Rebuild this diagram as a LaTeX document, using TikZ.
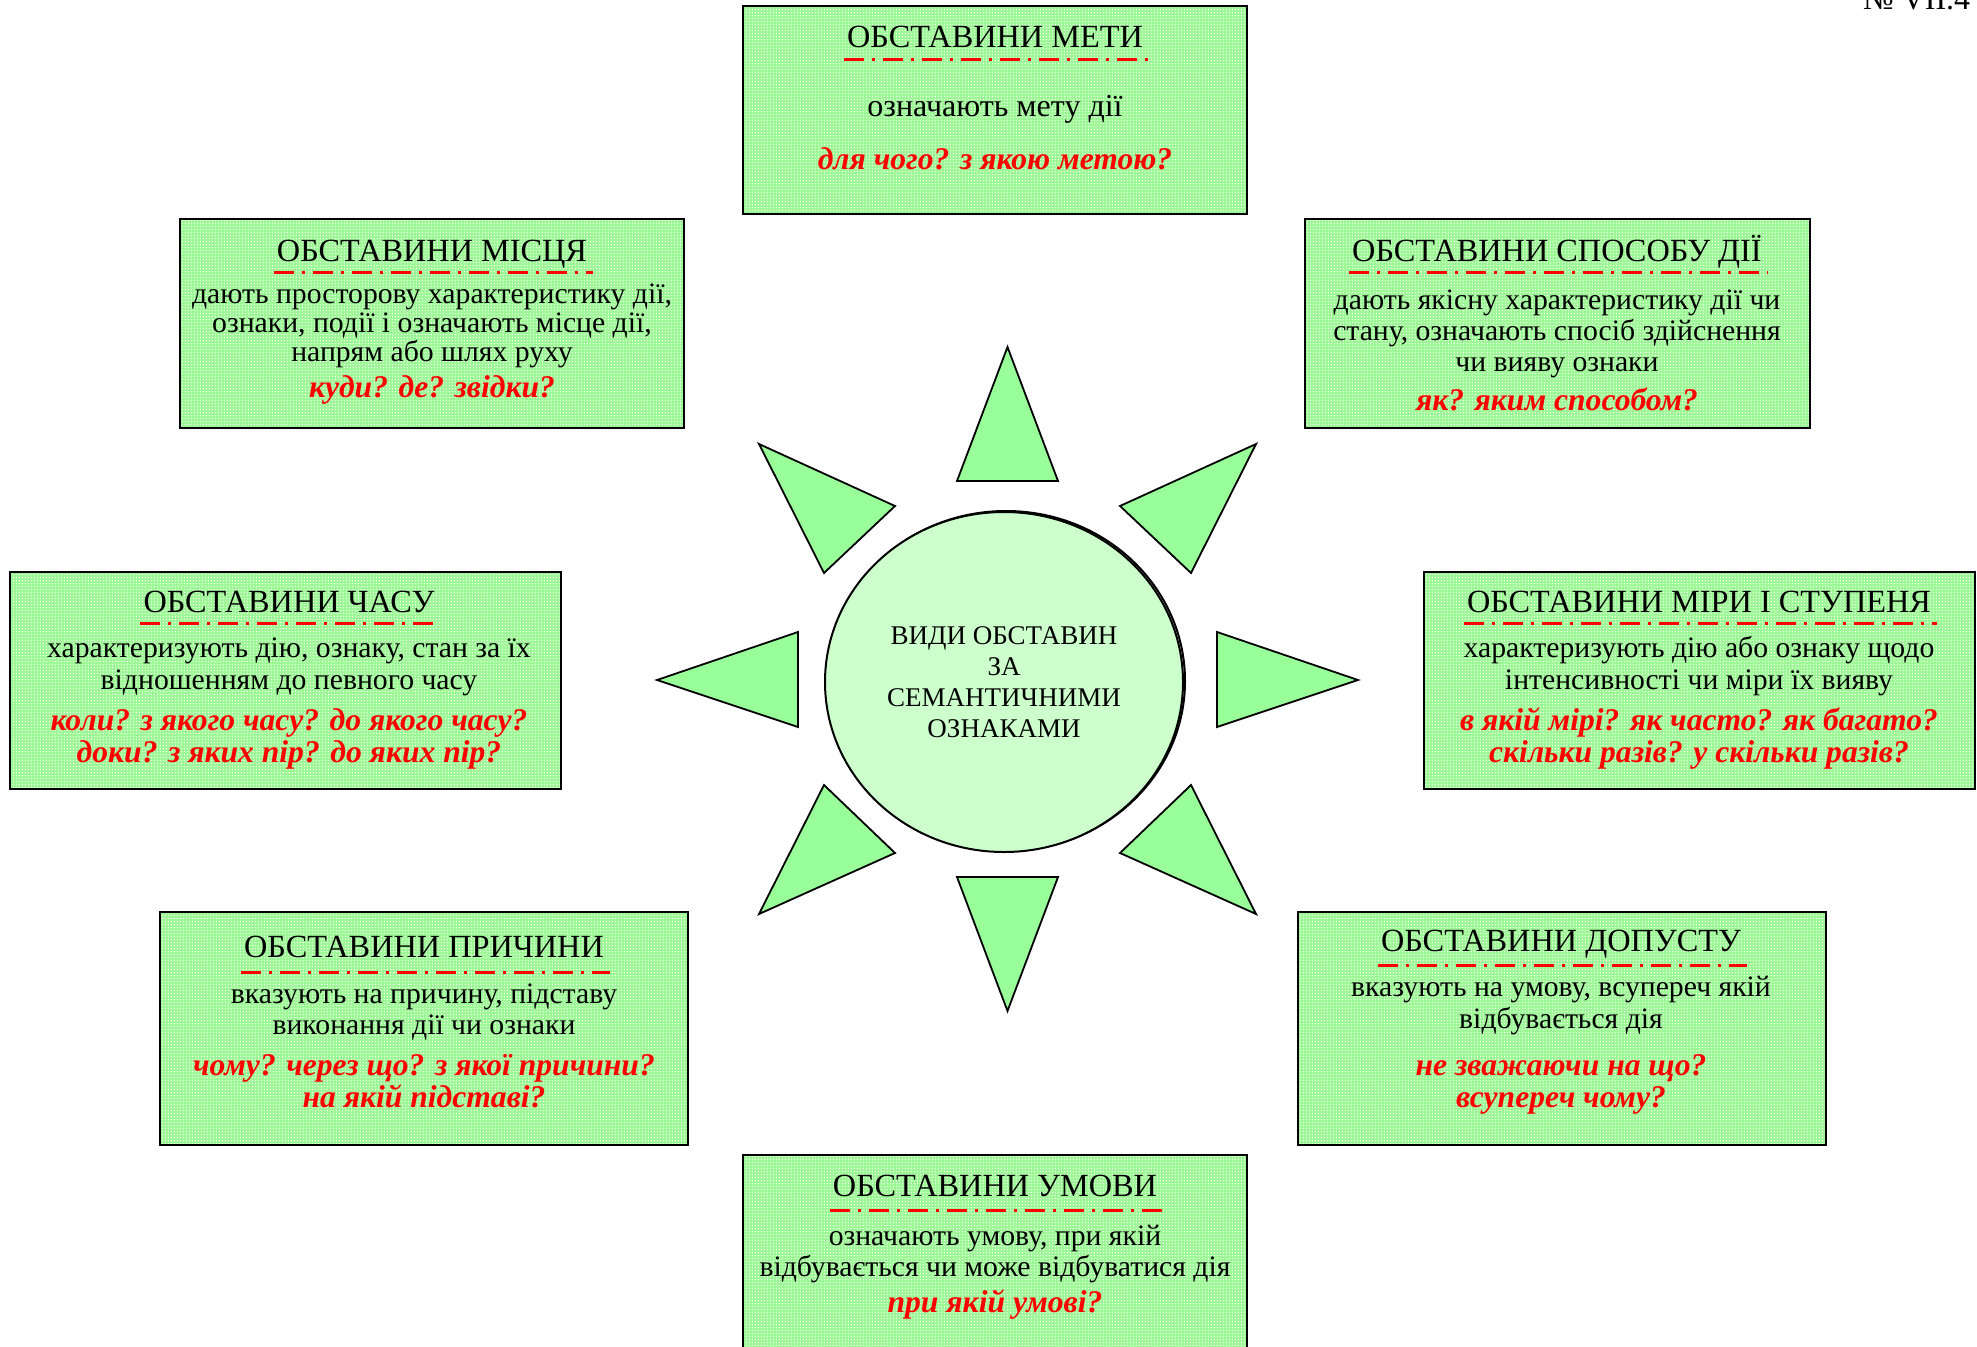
\documentclass[tikz,border=0pt]{standalone}
\usepackage{fontspec}
\setmainfont{Liberation Serif}
\usetikzlibrary{calc,shapes.geometric,patterns.meta}

\definecolor{boxgreen}{RGB}{156,248,148}
\definecolor{trigreen}{RGB}{153,255,153}
\definecolor{coregreen}{RGB}{204,255,204}
\definecolor{qred}{RGB}{255,0,0}

% fine grid of white dots laid over the panel fill
\tikzdeclarepattern{
  name=whitedots,
  type=uncolored,
  bounding box={(0pt,0pt) and (3.3pt,3.3pt)},
  tile size={(3.3pt,3.3pt)},
  code={\fill (1.65pt,1.65pt) circle (0.8pt);}
}

\tikzset{
  panel/.style={draw=black, line width=2pt, preaction={fill=boxgreen},
    pattern=whitedots, pattern color=white, inner sep=0pt},
  hdtxt/.style={font=\fontsize{32.3}{36}\selectfont, anchor=base, inner sep=0pt},
  bdtxt/.style={font=\fontsize{29.7}{33}\selectfont, anchor=base, inner sep=0pt},
  bigbdtxt/.style={font=\fontsize{32}{35}\selectfont, anchor=base, inner sep=0pt},
  asktxt/.style={font=\fontsize{31.6}{34}\selectfont\bfseries\itshape, text=qred,
    anchor=base, inner sep=0pt},
  dashline/.style={draw=qred, line width=3pt,
    dash pattern=on 20pt off 8pt on 3pt off 8pt},
  ray/.style={draw=black, line width=1.8pt, fill=trigreen, line join=miter},
}

\begin{document}
\begin{tikzpicture}[x=1pt, y=-1pt]
\fill[white] (0,0) rectangle (1977,1346);
\useasboundingbox (0,0) rectangle (1977,1346);

% sheet number in the corner
\node[anchor=base west, inner sep=0pt, font=\fontsize{32}{36}\selectfont] (sheet) at (1863,10) {№ VII.4};

% ---------- panels ----------
\node[panel, minimum width=504pt, minimum height=208pt] (pMeta) at (995,110) {};
\node[panel, minimum width=504pt, minimum height=209pt] (pPlace) at (432,323.5) {};
\node[panel, minimum width=505pt, minimum height=209pt] (pMode) at (1557.5,323.5) {};
\node[panel, minimum width=551pt, minimum height=217pt] (pTime) at (285.5,680.5) {};
\node[panel, minimum width=551pt, minimum height=217pt] (pMeasure) at (1699.5,680.5) {};
\node[panel, minimum width=528pt, minimum height=233pt] (pCause) at (424,1028.5) {};
\node[panel, minimum width=528pt, minimum height=233pt] (pConcede) at (1562,1028.5) {};
\node[panel, minimum width=504pt, minimum height=230pt] (pCond) at (995,1270) {};

% purpose
\node[hdtxt] (hMeta) at (995,48) {ОБСТАВИНИ МЕТИ};
\node[bigbdtxt] (bMeta) at (995,116) {означають мету дії};
\node[asktxt] (qMeta) at (995,169) {для чого? з якою метою?};

% place
\node[hdtxt] (hPlace) at (432,261) {ОБСТАВИНИ МІСЦЯ};
\node[bdtxt] (bPlace1) at (432,303) {дають просторову характеристику дії,};
\node[bdtxt] (bPlace2) at (432,332) {ознаки, події і означають місце дії,};
\node[bdtxt] (bPlace3) at (432,361) {напрям або шлях руху};
\node[asktxt] (qPlace) at (432,397) {куди? де? звідки?};

% manner
\node[hdtxt] (hMode) at (1557,261) {ОБСТАВИНИ СПОСОБУ ДІЇ};
\node[bdtxt] (bMode1) at (1557,309) {дають якісну характеристику дії чи};
\node[bdtxt] (bMode2) at (1557,340) {стану, означають спосіб здійснення};
\node[bdtxt] (bMode3) at (1557,371) {чи вияву ознаки};
\node[asktxt] (qMode) at (1557,410) {як? яким способом?};

% time
\node[hdtxt] (hTime) at (289,612) {ОБСТАВИНИ ЧАСУ};
\node[bdtxt] (bTime1) at (289,657) {характеризують дію, ознаку, стан за їх};
\node[bdtxt] (bTime2) at (289,689) {відношенням до певного часу};
\node[asktxt] (qTime1) at (289,730) {коли? з якого часу? до якого часу?};
\node[asktxt] (qTime2) at (289,762) {доки? з яких пір? до яких пір?};

% measure and degree
\node[hdtxt] (hMeasure) at (1699,612) {ОБСТАВИНИ МІРИ І СТУПЕНЯ};
\node[bdtxt] (bMeasure1) at (1699,657) {характеризують дію або ознаку щодо};
\node[bdtxt] (bMeasure2) at (1699,689) {інтенсивності чи міри їх вияву};
\node[asktxt] (qMeasure1) at (1699,730) {в якій мірі? як часто? як багато?};
\node[asktxt] (qMeasure2) at (1699,762) {скільки разів? у скільки разів?};

% cause
\node[hdtxt] (hCause) at (424,957) {ОБСТАВИНИ ПРИЧИНИ};
\node[bdtxt] (bCause1) at (424,1003) {вказують на причину, підставу};
\node[bdtxt] (bCause2) at (424,1034) {виконання дії чи ознаки};
\node[asktxt] (qCause1) at (424,1075) {чому? через що? з якої причини?};
\node[asktxt] (qCause2) at (424,1107) {на якій підставі?};

% concession
\node[hdtxt] (hConcede) at (1561,951) {ОБСТАВИНИ ДОПУСТУ};
\node[bdtxt] (bConcede1) at (1561,996) {вказують на умову, всупереч якій};
\node[bdtxt] (bConcede2) at (1561,1028) {відбувається дія};
\node[asktxt] (qConcede1) at (1561,1075) {не зважаючи на що?};
\node[asktxt] (qConcede2) at (1561,1107) {всупереч чому?};

% condition
\node[hdtxt] (hCond) at (995,1196) {ОБСТАВИНИ УМОВИ};
\node[bdtxt] (bCond1) at (995,1245) {означають умову, при якій};
\node[bdtxt] (bCond2) at (995,1276) {відбувається чи може відбуватися дія};
\node[asktxt] (qCond) at (995,1312) {при якій умові?};

% dash-dot rules under the headings
\foreach \h/\d in {hMeta/12, hPlace/11, hMode/11, hTime/11, hMeasure/11, hCause/15, hConcede/14, hCond/14}{
  \draw[dashline] ($(\h.base west)+(-3,\d)$) -- ($(\h.base east)+(6,\d)$);
}

% ---------- centre ----------
\node[ellipse, draw=black, line width=2pt, minimum width=358pt, minimum height=340pt,
  inner sep=0pt] (coreshadow) at (1006,681) {};
\node[ellipse, draw=black, line width=2pt, fill=coregreen, minimum width=358pt,
  minimum height=340pt, inner sep=0pt, align=center,
  font=\fontsize{27}{31}\selectfont] (core) at (1004,682)
  {ВИДИ ОБСТАВИН\\ЗА\\СЕМАНТИЧНИМИ\\ОЗНАКАМИ};

% rays around the centre
\draw[ray] (957,481) -- (1007.5,347) -- (1058,481) -- cycle;
\draw[ray] (957,877) -- (1007.5,1011) -- (1058,877) -- cycle;
\draw[ray] (798,632) -- (657,680) -- (798,727) -- cycle;
\draw[ray] (1217,632) -- (1358,680) -- (1217,727) -- cycle;
\draw[ray] (759,444) -- (895,506) -- (824,573) -- cycle;
\draw[ray] (1256,444) -- (1120,506) -- (1191,573) -- cycle;
\draw[ray] (759,914) -- (895,853) -- (824,785) -- cycle;
\draw[ray] (1256,914) -- (1120,853) -- (1191,785) -- cycle;
\end{tikzpicture}
\end{document}
